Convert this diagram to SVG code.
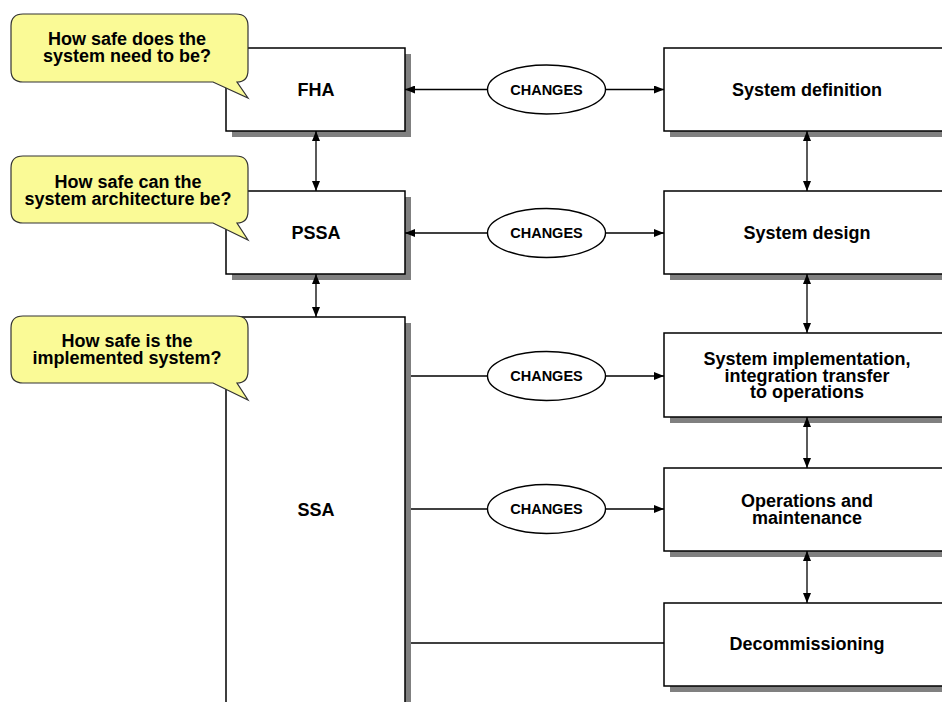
<svg xmlns="http://www.w3.org/2000/svg" width="942" height="702" viewBox="0 0 942 702">
<defs>
<style>
.box{fill:#fff;stroke:#000;stroke-width:1.5}
.sh{fill:#808080}
.call{fill:#fafa96;stroke:#333;stroke-width:1.2}
.t{font-family:"Liberation Sans",Arial,sans-serif;font-weight:bold;font-size:18px;text-anchor:middle;fill:#000}
.c{font-family:"Liberation Sans",Arial,sans-serif;font-weight:bold;font-size:14.5px;text-anchor:middle;fill:#000}
.ln{stroke:#000;stroke-width:1.3;fill:none}
.ell{fill:#fff;stroke:#000;stroke-width:1.4}
</style>
<marker id="ae" viewBox="0 0 10 8" refX="10" refY="4" markerWidth="10" markerHeight="8" markerUnits="userSpaceOnUse" orient="auto"><path d="M0,0 L10,4 L0,8 Z" fill="#000"/></marker>
<marker id="as" viewBox="0 0 10 8" refX="0" refY="4" markerWidth="10" markerHeight="8" markerUnits="userSpaceOnUse" orient="auto"><path d="M10,0 L0,4 L10,8 Z" fill="#000"/></marker>
</defs>
<rect width="942" height="702" fill="#fff"/>

<g id="fha"><rect class="sh" x="232" y="54" width="179" height="83"/><rect class="box" x="226" y="48" width="179" height="83"/><text class="t" x="316" y="96">FHA</text></g>
<g id="pssa"><rect class="sh" x="232" y="197" width="179" height="83"/><rect class="box" x="226" y="191" width="179" height="83"/><text class="t" x="316" y="239">PSSA</text></g>
<g id="ssa"><rect class="sh" x="232" y="323" width="179" height="400"/><rect class="box" x="226" y="317" width="179" height="400"/><text class="t" x="316" y="516">SSA</text></g>

<g id="sysdef"><rect class="sh" x="670" y="54" width="290" height="83"/><rect class="box" x="664" y="48" width="290" height="83"/><text class="t" x="807" y="96">System definition</text></g>
<g id="sysdes"><rect class="sh" x="670" y="197" width="290" height="83"/><rect class="box" x="664" y="191" width="290" height="83"/><text class="t" x="807" y="239">System design</text></g>
<g id="sysimpl"><rect class="sh" x="670" y="339" width="290" height="84"/><rect class="box" x="664" y="333" width="290" height="84"/><text class="t" x="807" y="365">System implementation,</text><text class="t" x="807" y="381.5">integration transfer</text><text class="t" x="807" y="398">to operations</text></g>
<g id="ops"><rect class="sh" x="670" y="474" width="290" height="83"/><rect class="box" x="664" y="468" width="290" height="83"/><text class="t" x="807" y="507">Operations and</text><text class="t" x="807" y="523.5">maintenance</text></g>
<g id="decom"><rect class="sh" x="670" y="609" width="290" height="83"/><rect class="box" x="664" y="603" width="290" height="83"/><text class="t" x="807" y="650">Decommissioning</text></g>

<g id="callout1"><path class="call" d="M23,14 H236 Q248,14 248,26 V70 Q248,82 237,82 L248,98 L213,82 H23 Q11,82 11,70 V26 Q11,14 23,14 Z"/><text class="t" x="127" y="45">How safe does the</text><text class="t" x="127" y="61.5">system need to be?</text></g>
<g id="callout2"><path class="call" d="M23,156 H236 Q248,156 248,168 V211 Q248,223 237,223 L248,240 L213,223 H23 Q11,223 11,211 V168 Q11,156 23,156 Z"/><text class="t" x="128" y="188">How safe can the</text><text class="t" x="128" y="204.5">system architecture be?</text></g>
<g id="callout3"><path class="call" d="M23,316 H236 Q248,316 248,328 V371 Q248,383 237,383 L248,400 L213,383 H23 Q11,383 11,371 V328 Q11,316 23,316 Z"/><text class="t" x="127" y="347">How safe is the</text><text class="t" x="127" y="363.5">implemented system?</text></g>

<g id="connectors">
<line class="ln" x1="487" y1="89.5" x2="405" y2="89.5" marker-end="url(#ae)"/>
<line class="ln" x1="606" y1="89.5" x2="664" y2="89.5" marker-end="url(#ae)"/>
<line class="ln" x1="487" y1="233" x2="405" y2="233" marker-end="url(#ae)"/>
<line class="ln" x1="606" y1="233" x2="664" y2="233" marker-end="url(#ae)"/>
<line class="ln" x1="411" y1="376" x2="487" y2="376"/>
<line class="ln" x1="606" y1="376" x2="664" y2="376" marker-end="url(#ae)"/>
<line class="ln" x1="411" y1="509" x2="487" y2="509"/>
<line class="ln" x1="606" y1="509" x2="664" y2="509" marker-end="url(#ae)"/>
<line class="ln" x1="411" y1="643" x2="664" y2="643"/>
<line class="ln" x1="316" y1="131" x2="316" y2="191" marker-start="url(#as)" marker-end="url(#ae)"/>
<line class="ln" x1="316" y1="274" x2="316" y2="317" marker-start="url(#as)" marker-end="url(#ae)"/>
<line class="ln" x1="807" y1="131" x2="807" y2="191" marker-start="url(#as)" marker-end="url(#ae)"/>
<line class="ln" x1="807" y1="274" x2="807" y2="333" marker-start="url(#as)" marker-end="url(#ae)"/>
<line class="ln" x1="807" y1="417" x2="807" y2="468" marker-start="url(#as)" marker-end="url(#ae)"/>
<line class="ln" x1="807" y1="551" x2="807" y2="603" marker-start="url(#as)" marker-end="url(#ae)"/>
<g id="changes1"><ellipse class="ell" cx="546.5" cy="89.5" rx="59" ry="24.5"/><text class="c" x="546.5" y="94.5">CHANGES</text></g>
<g id="changes2"><ellipse class="ell" cx="546.5" cy="233" rx="59" ry="24.5"/><text class="c" x="546.5" y="238">CHANGES</text></g>
<g id="changes3"><ellipse class="ell" cx="546.5" cy="376" rx="59" ry="24.5"/><text class="c" x="546.5" y="381">CHANGES</text></g>
<g id="changes4"><ellipse class="ell" cx="546.5" cy="509" rx="59" ry="24.5"/><text class="c" x="546.5" y="514">CHANGES</text></g>
</g>
</svg>
